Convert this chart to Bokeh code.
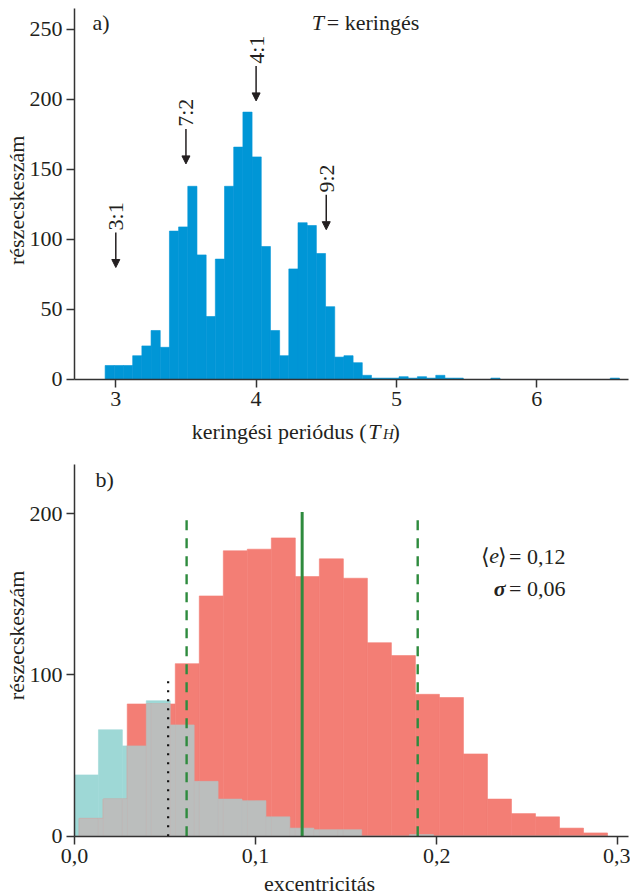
import numpy as np
from bokeh.plotting import figure
from bokeh.layouts import column
from bokeh.models import (ColumnDataSource, Arrow, NormalHead, Label, LabelSet,
                          FixedTicker, CustomJSTickFormatter, Range1d)
from bokeh.embed import file_html
from bokeh.resources import INLINE
from bokeh.core.properties import value

# ---------------- data: panel a) orbital period histogram ----------------
period_bin_start = 2.924
period_bin_width = 0.06546
period_counts = [10, 10, 10, 17, 24, 35, 23, 106, 109, 138, 89, 45, 86, 138,
                 166, 191, 159, 95, 35, 17, 79, 112, 110, 90, 52, 16, 17, 12,
                 3, 1, 1, 1, 2, 1, 2, 1, 3, 1, 1, 0, 0, 0, 1, 0, 0, 0, 0, 0,
                 0, 0, 0, 0, 0, 0, 0, 1]
period_ticks = [3, 4, 5, 6]
count_ticks_a = [0, 50, 100, 150, 200, 250]

res_period = [3.0, 3.5, 4.0, 4.5]
res_label = ["3:1", "7:2", "4:1", "9:2"]
res_arrow_tip = [80, 154, 199, 107]
res_arrow_tail = [105, 179, 224, 132]

# ---------------- data: panel b) eccentricity histograms ----------------
ecc_red_start = 0.0026
ecc_red_width = 0.01326
ecc_red_counts = [11, 23, 82, 82, 107, 149, 177, 178, 185, 161, 172, 160, 120,
                  112, 88, 86, 51, 23, 14, 12, 5, 2]
ecc_teal_start = 0.0
ecc_teal_width = 0.013214
ecc_teal_counts = [38, 66, 56, 84, 69, 34, 23, 22, 12, 5, 4, 4, 0, 0, 1]
ecc_mean = 0.1257
ecc_sigma = 0.0638
ecc_dotted = 0.0517
ecc_ticks = [0.0, 0.1, 0.2, 0.3]
count_ticks_b = [0, 100, 200]

FONT = "Liberation Serif"
FS = "22px"
TXT = "#231f20"
AX = "#333333"


def style(p, xb, yb):
    p.grid.visible = False
    p.outline_line_color = None
    for ax in (p.xaxis, p.yaxis):
        ax.axis_line_color = AX
        ax.axis_line_width = 1.5
        ax.major_tick_line_color = AX
        ax.major_tick_line_width = 1.5
        ax.major_tick_out = 8
        ax.major_tick_in = 0
        ax.minor_tick_line_color = None
        ax.major_label_text_font = FONT
        ax.major_label_text_font_size = FS
        ax.major_label_text_color = TXT
    p.xaxis.fixed_location = yb[0]
    p.xaxis.bounds = xb
    p.xaxis.major_label_standoff = 5
    p.yaxis.fixed_location = xb[0]
    p.yaxis.bounds = yb
    p.yaxis.major_label_standoff = 4


def lab(p, x, y, text, size=FS, style_="normal", align="left", base="alphabetic", angle=0.0):
    p.add_layout(Label(x=x, y=y, text=text, text_font=FONT, text_font_size=size,
                       text_font_style=style_, text_color=TXT, text_align=align,
                       text_baseline=base, angle=angle))


# ---------------- panel a ----------------
p1 = figure(width=630, height=456, x_range=Range1d(2.1782, 6.6686),
            y_range=Range1d(-55.0, 270.71),
            output_backend="svg", toolbar_location=None, min_border=0,
            min_border_left=0, min_border_right=0, min_border_top=0, min_border_bottom=0)
style(p1, (2.706, 6.654), (0, 265))
p1.xaxis.ticker = FixedTicker(ticks=period_ticks)
p1.yaxis.ticker = FixedTicker(ticks=count_ticks_a)

left_a = period_bin_start + period_bin_width * np.arange(len(period_counts))
src_a = ColumnDataSource(dict(left=left_a, right=left_a + period_bin_width,
                              top=period_counts, bottom=[0] * len(period_counts)))
p1.quad(left="left", right="right", top="top", bottom="bottom", source=src_a,
        fill_color="#0096d6", line_color="#0096d6", line_width=0.6)

res_src = ColumnDataSource(dict(x=res_period, tip=res_arrow_tip, tail=res_arrow_tail,
                                label=res_label,
                                ly=[t + 1.5 for t in res_arrow_tail]))
p1.add_layout(Arrow(end=NormalHead(size=8, fill_color=TXT, line_color=TXT, line_width=1),
                    x_start="x", y_start="tail", x_end="x", y_end="tip",
                    source=res_src, line_width=1.5, line_color=TXT))
p1.add_layout(LabelSet(x="x", y="ly", text="label", source=res_src, angle=np.pi / 2,
                       text_align="left", text_baseline="middle",
                       text_font=value(FONT), text_font_size=FS, text_color=TXT))

lab(p1, 2.2922, 128, "részecskeszám", align="center", base="middle", angle=np.pi / 2)
lab(p1, 2.834, 255, "a)")
lab(p1, 4.397, 255, "T", style_="italic")
lab(p1, 4.504, 255, "= keringés")
lab(p1, 4.787, -36.8, "keringési periódus (", align="right")
lab(p1, 4.800, -36.8, "T", style_="italic")
lab(p1, 4.905, -39.0, "H", size="15px", style_="italic")
lab(p1, 4.972, -36.8, ")")

# ---------------- panel b ----------------
p2 = figure(width=630, height=439, x_range=Range1d(-0.04086, 0.3070),
            y_range=Range1d(-36.8, 235.5),
            output_backend="svg", toolbar_location=None, min_border=0,
            min_border_left=0, min_border_right=0, min_border_top=0, min_border_bottom=0)
style(p2, (0, 0.3059), (0, 230.6))
p2.xaxis.ticker = FixedTicker(ticks=ecc_ticks)
p2.xaxis.formatter = CustomJSTickFormatter(code="return tick.toFixed(1).replace('.', ',');")
p2.yaxis.ticker = FixedTicker(ticks=count_ticks_b)

red_edges = ecc_red_start + ecc_red_width * np.arange(len(ecc_red_counts) + 1)
teal_edges = ecc_teal_start + ecc_teal_width * np.arange(len(ecc_teal_counts) + 1)


def step_value(edges, counts, xs):
    idx = np.searchsorted(edges, xs, side="right") - 1
    out = np.zeros(len(xs))
    ok = (idx >= 0) & (idx < len(counts))
    out[ok] = np.asarray(counts)[idx[ok]]
    return out


p2.quad(left=teal_edges[:-1], right=teal_edges[1:], top=ecc_teal_counts, bottom=0,
        fill_color="#9ed8d6", line_color="#9ed8d6", line_width=0.6)
p2.quad(left=red_edges[:-1], right=red_edges[1:], top=ecc_red_counts, bottom=0,
        fill_color="#f37e75", line_color="#f37e75", line_width=0.6)

all_edges = np.union1d(red_edges, teal_edges)
mids = 0.5 * (all_edges[:-1] + all_edges[1:])
overlap = np.minimum(step_value(red_edges, ecc_red_counts, mids),
                     step_value(teal_edges, ecc_teal_counts, mids))
p2.quad(left=all_edges[:-1], right=all_edges[1:], top=overlap, bottom=0,
        fill_color="#bbbebd", line_color="#bbbebd", line_width=0.6)

p2.segment(x0=[ecc_dotted], y0=[0], x1=[ecc_dotted], y1=[100],
           line_color="#111111", line_width=2.2, line_dash="2 7")
p2.segment(x0=[ecc_mean - ecc_sigma, ecc_mean + ecc_sigma], y0=[0, 0],
           x1=[ecc_mean - ecc_sigma, ecc_mean + ecc_sigma], y1=[200, 200],
           line_color="#2e8b3e", line_width=2.4, line_dash="10 8")
p2.segment(x0=[ecc_mean], y0=[0], x1=[ecc_mean], y1=[201],
           line_color="#2e8b3e", line_width=3)

lab(p2, -0.03203, 124.5, "részecskeszám", align="center", base="middle", angle=np.pi / 2)
lab(p2, 0.0116, 221.3, "b)")
lab(p2, 0.1353, -29.6, "excentricitás", align="center")
lab(p2, 0.2711, 173.5, "= 0,12", align="right")
lab(p2, 0.2361, 173.5, "⟩", align="center")
lab(p2, 0.2317, 173.5, "e", style_="italic", align="center")
lab(p2, 0.2268, 173.5, "⟨", align="center")
lab(p2, 0.2711, 153.7, "= 0,06", align="right")
lab(p2, 0.2380, 153.7, "σ", style_="bold italic", align="right")

layout = column(p1, p2, spacing=0)
open("out.html", "w").write(file_html(layout, INLINE))
